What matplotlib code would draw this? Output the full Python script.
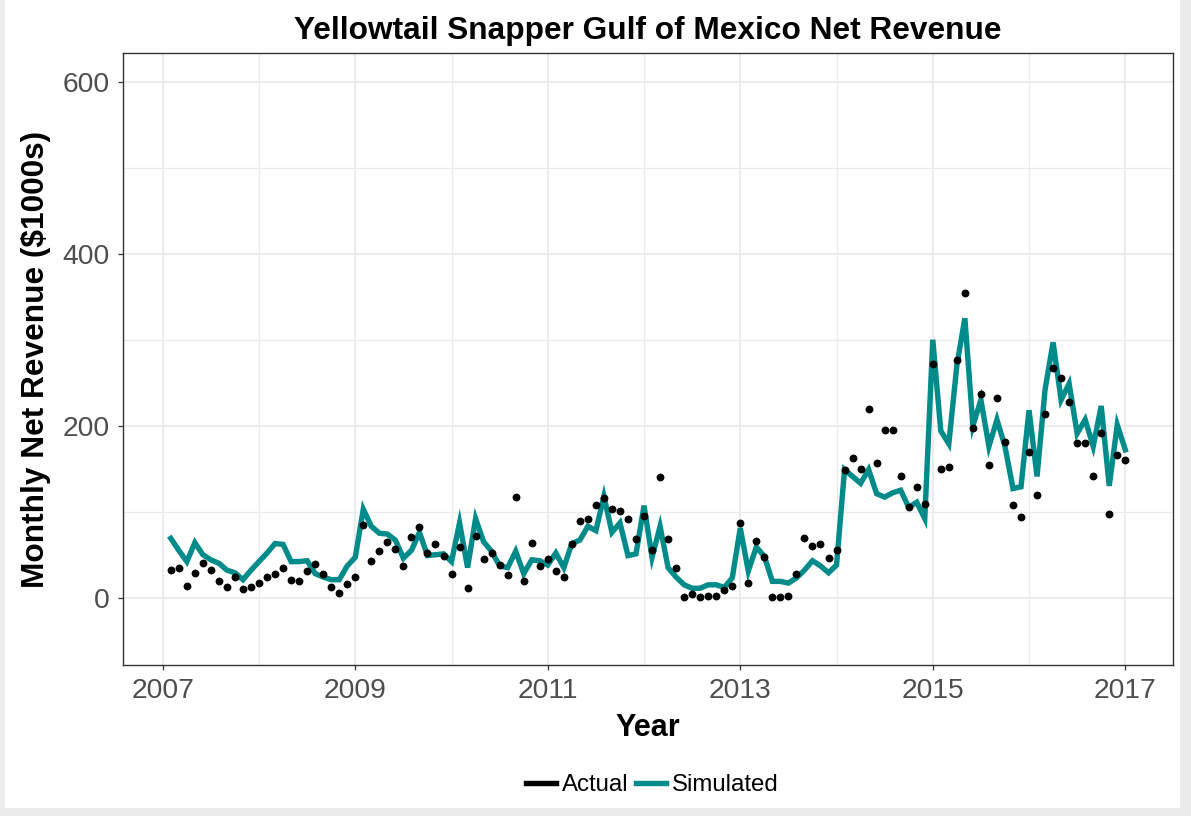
import numpy as np
import matplotlib
matplotlib.use("Agg")
import matplotlib.pyplot as plt
from matplotlib.lines import Line2D
from matplotlib.patches import Rectangle
from matplotlib.ticker import MultipleLocator

plt.rcParams["font.family"] = ["Liberation Sans", "DejaVu Sans"]

# monthly values, Feb 2007 .. Jan 2017
month_index = np.arange(1, 121)
year_pos = 2007 + month_index / 12

actual = [
    32, 35, 14, 29, 40, 32, 20, 12, 24, 10, 12, 17, 24, 28, 35, 21, 20,
    31, 39, 28, 12, 6, 16, 24, 85, 43, 54, 65, 57, 37, 71, 82, 52, 62,
    49, 28, 59, 11, 72, 45, 52, 38, 26, 117, 20, 64, 37, 45, 31, 24,
    63, 89, 92, 108, 116, 103, 101, 91, 68, 95, 56, 140, 68, 34, 1, 4, 1,
    2, 2, 9, 14, 87, 17, 66, 47, 1, 1, 2, 28, 69, 60, 63, 46, 55,
    148, 163, 150, 220, 157, 195, 195, 142, 105, 129, 109, 272, 150, 152, 277, 354, 197,
    237, 154, 232, 181, 108, 94, 169, 120, 214, 267, 255, 228, 180, 180, 142, 191, 97, 166, 160,
]

simulated = [
    69, 55, 42, 64, 50, 44, 40, 32, 29, 21, 32, 42, 52, 63, 62, 42, 42,
    43, 28, 24, 21, 21, 37, 47, 103, 83, 75, 74, 67, 46, 55, 76, 49, 50,
    51, 42, 87, 35, 92, 65, 54, 37, 35, 54, 28, 44, 43, 38, 52, 35,
    63, 67, 83, 78, 118, 76, 87, 49, 51, 107, 47, 83, 35, 24, 15, 11, 11,
    15, 15, 12, 23, 81, 31, 59, 48, 19, 19, 17, 23, 32, 43, 37, 29, 38,
    149, 141, 133, 149, 121, 117, 122, 125, 105, 111, 92, 300, 194, 179, 270, 325, 200,
    230, 176, 207, 176, 127, 129, 218, 141, 242, 297, 230, 249, 191, 207, 176, 223, 130, 201, 172,
]

teal = "#008B8B"
grid_col = "#ebebeb"

fig = plt.figure(figsize=(11.91, 8.16), dpi=100)
fig.patch.set_facecolor("#ececec")
# white page inside a thin grey frame
fig.patches.append(Rectangle((5 / 1191, 8 / 816), 1175 / 1191, 808 / 816,
                             transform=fig.transFigure, facecolor="white",
                             edgecolor="none", zorder=-10))

ax = fig.add_axes([0.1033, 0.185, 0.8816, 0.75])

ax.plot(year_pos, simulated, color=teal, lw=3.9, solid_joinstyle="miter", zorder=3)
ax.scatter(year_pos, actual, s=32, color="black", zorder=4, linewidths=0)

ax.set_xlim(2006.587, 2017.496)
ax.set_ylim(-78.3, 633.4)

ax.xaxis.set_major_locator(MultipleLocator(2))
ax.xaxis.set_minor_locator(MultipleLocator(1))
ax.yaxis.set_major_locator(MultipleLocator(200))
ax.yaxis.set_minor_locator(MultipleLocator(100))
ax.set_xticks([2007, 2009, 2011, 2013, 2015, 2017])

ax.grid(which="major", color=grid_col, lw=1.3, zorder=0)
ax.grid(which="minor", color=grid_col, lw=0.9, zorder=0)
ax.set_axisbelow(True)

for s in ax.spines.values():
    s.set_color("#333333")
    s.set_linewidth(1.0)

ax.tick_params(which="major", direction="out", length=3.5, width=0.9, color="#333333",
               labelsize=20.3, labelcolor="#4d4d4d", pad=6)
ax.tick_params(which="minor", length=0)

ax.set_title("Yellowtail Snapper Gulf of Mexico Net Revenue", fontsize=22.8,
             fontweight="bold", pad=10)
ax.set_xlabel("Year", fontsize=22, fontweight="bold", labelpad=6)
ax.set_ylabel("Monthly Net Revenue ($1000s)", fontsize=22.8, fontweight="bold", labelpad=8)

handles = [
    Line2D([], [], color="black", lw=3.9, marker="o", markersize=2.5),
    Line2D([], [], color=teal, lw=3.9, marker="o", markersize=2.5),
]
fig.legend(handles, ["Actual", "Simulated"], loc="center", bbox_to_anchor=(0.548, 0.038),
           ncol=2, frameon=False, fontsize=17.3, handlelength=1.25, handletextpad=0.25,
           columnspacing=0.3)

fig.savefig("out.png", dpi=100, facecolor=fig.get_facecolor())
